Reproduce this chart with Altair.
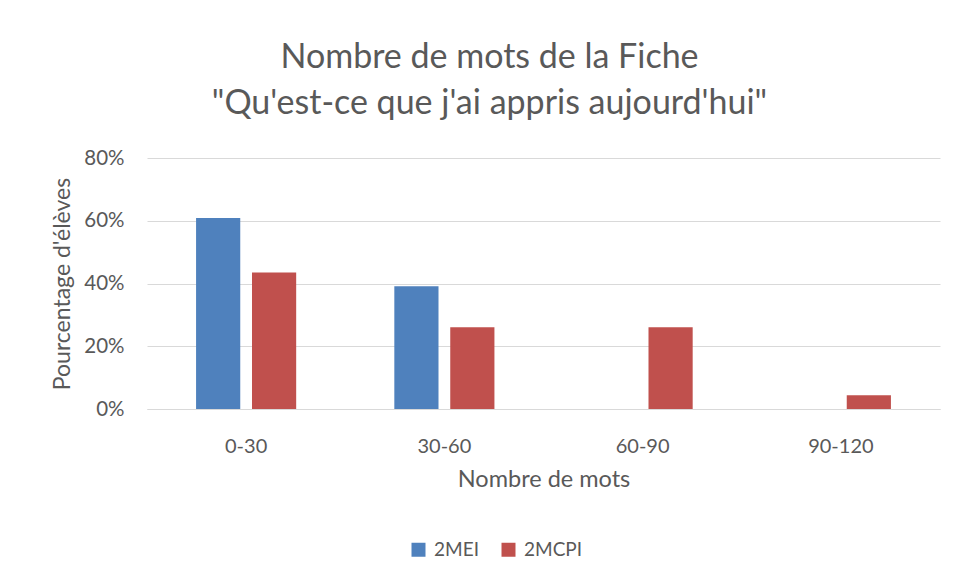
import altair as alt
import pandas as pd

categories = ["0-30", "30-60", "60-90", "90-120"]
series = ["2MEI", "2MCPI"]
values_2mei = [0.6087, 0.3913, 0.0, 0.0]
values_2mcpi = [0.4348, 0.2609, 0.2609, 0.0435]
colors = ["#4F81BD", "#C0504D"]

rows = []
for c, a, b in zip(categories, values_2mei, values_2mcpi):
    rows.append({"cat": c, "serie": "2MEI", "val": a})
    rows.append({"cat": c, "serie": "2MCPI", "val": b})
df = pd.DataFrame(rows)

FONT = "Lato"
GRAY = "#595959"

chart = alt.Chart(df).mark_bar().encode(
    x=alt.X("cat:N", sort=categories,
            scale=alt.Scale(paddingInner=0.495, paddingOuter=0.2475),
            axis=alt.Axis(title="Nombre de mots", labelAngle=0, labelPadding=27,
                          ticks=False, domainColor="#d9d9d9", labelFontSize=20,
                          titleFontSize=23.5, titlePadding=11, labelColor=GRAY,
                          titleColor=GRAY, titleFontWeight="normal")),
    xOffset=alt.XOffset("serie:N", sort=series,
                        scale=alt.Scale(paddingInner=0.21, paddingOuter=0)),
    y=alt.Y("val:Q", scale=alt.Scale(domain=[0, 0.8]),
            axis=alt.Axis(title="Pourcentage d'élèves", format=".0%", values=[0, 0.2, 0.4, 0.6, 0.8],
                          ticks=False, domain=False, gridColor="#d9d9d9", labelPadding=23,
                          labelFontSize=20.5, titleFontSize=23, titlePadding=9,
                          labelColor=GRAY, titleColor=GRAY, titleFontWeight="normal")),
    color=alt.Color("serie:N", sort=series,
                    scale=alt.Scale(domain=series, range=colors),
                    legend=alt.Legend(title=None, orient="none", direction="horizontal",
                                      legendX=262, legendY=382, symbolType="square",
                                      symbolSize=196, labelFontSize=19, labelColor=GRAY,
                                      labelOffset=6, columnPadding=20, symbolOpacity=1,
                                      symbolStrokeWidth=0)),
).properties(
    width=793,
    height=251,
    padding={"left": 139, "top": 150, "right": 8, "bottom": 165},
    autosize=alt.AutoSizeParams(type="none"),
    title=alt.TitleParams(
        text=["Nombre de mots de la Fiche", "\"Qu'est-ce que j'ai appris aujourd'hui\""],
        fontSize=34, font=FONT, fontWeight="normal", color=GRAY,
        lineHeight=46, anchor="middle", dx=-54, offset=27,
    ),
).configure(font=FONT).configure_view(stroke=None)

chart.save("out.html", embed_options={"renderer": "svg", "actions": False})
